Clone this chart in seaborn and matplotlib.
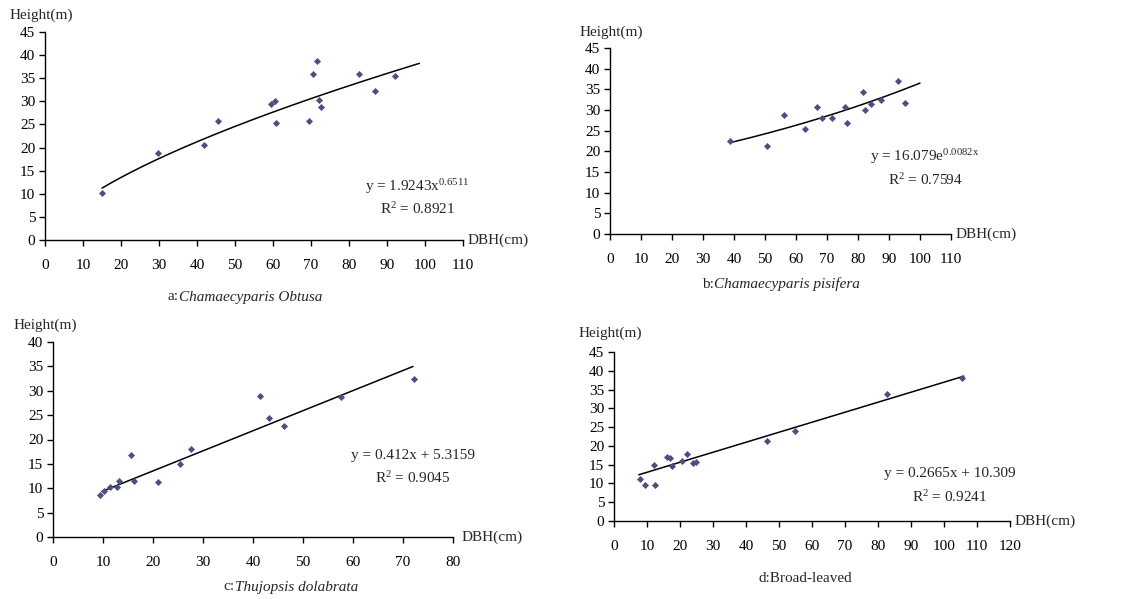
import numpy as np
import pandas as pd
import matplotlib
matplotlib.use("Agg")
import matplotlib.pyplot as plt
import seaborn as sns

sns.set_style("white")
plt.rcParams['font.family'] = ['Liberation Serif', 'DejaVu Serif']
plt.rcParams['mathtext.fontset'] = 'custom'
plt.rcParams['mathtext.rm'] = 'Liberation Serif'
plt.rcParams['mathtext.it'] = 'Liberation Serif:italic'

# ---- data ----
a_dbh = [14.9, 29.8, 41.8, 45.6, 59.6, 60.5, 60.8, 69.6, 70.6, 71.7, 72.0, 72.7, 82.6, 86.8, 92.1]
a_h = [10.2, 18.8, 20.6, 25.8, 29.5, 30.0, 25.3, 25.8, 36.0, 38.7, 30.2, 28.8, 36.0, 32.2, 35.4]
b_dbh = [38.8, 50.6, 56.1, 62.8, 66.7, 68.5, 71.6, 75.7, 76.5, 81.6, 82.3, 84.1, 87.4, 92.9, 95.2]
b_h = [22.5, 21.4, 28.8, 25.5, 30.8, 28.1, 28.1, 30.7, 26.9, 34.3, 30.0, 31.4, 32.3, 37.0, 31.6]
c_dbh = [9.4, 10.1, 11.4, 12.7, 13.2, 15.6, 16.2, 20.9, 25.3, 27.6, 41.3, 43.1, 46.1, 57.5, 72.1]
c_h = [8.6, 9.4, 10.3, 10.3, 11.4, 16.8, 11.5, 11.2, 14.9, 18.1, 29.0, 24.5, 22.8, 28.7, 32.5]
d_dbh = [7.8, 9.5, 12.1, 12.3, 16.1, 16.9, 17.6, 20.6, 22.2, 24.0, 24.8, 46.5, 54.9, 82.6, 105.6]
d_h = [11.2, 9.6, 14.9, 9.6, 17.0, 16.7, 14.7, 16.1, 17.9, 15.5, 15.7, 21.3, 24.0, 33.7, 38.0]

# trendline coefficients (as printed in the chart)
a_coef = (1.9243, 0.6511)    # power
b_coef = (16.079, 0.0082)    # exponential
c_coef = (0.412, 5.3159)     # linear
d_coef = (0.2665, 10.309)    # linear
a_range = (15.0, 98.5)
b_range = (38.8, 100.0)
c_range = (9.8, 72.0)
d_range = (7.5, 106.0)

a_xticks = list(range(0, 111, 10))
b_xticks = list(range(0, 111, 10))
c_xticks = list(range(0, 81, 10))
d_xticks = list(range(0, 121, 10))
a_yticks = list(range(0, 46, 5))
b_yticks = list(range(0, 46, 5))
c_yticks = list(range(0, 41, 5))
d_yticks = list(range(0, 46, 5))

eq_a = "y = 1.9243x$^{\\mathrm{0.6511}}$"
eq_b = "y = 16.079e$^{\\mathrm{0.0082x}}$"
eq_c = "y = 0.412x + 5.3159"
eq_d = "y = 0.2665x + 10.309"
r2_a = "R$^{\\mathrm{2}}$ = 0.8921"
r2_b = "R$^{\\mathrm{2}}$ = 0.7594"
r2_c = "R$^{\\mathrm{2}}$ = 0.9045"
r2_d = "R$^{\\mathrm{2}}$ = 0.9241"

W, H = 1123, 599
fig = plt.figure(figsize=(W / 100, H / 100), dpi=100)

def px_axes(x0, y_top, x1, y_bot):
    return fig.add_axes([x0 / W, 1 - y_bot / H, (x1 - x0) / W, (y_bot - y_top) / H])

FS = 11

def ftext(x, y, s, ha='left', va='center', **kw):
    fig.text(x / W, 1 - y / H, s, ha=ha, va=va, fontsize=FS, **kw)

MC = '#4e4e80'

def panel(box, xs, ys, xticks, yticks, kind, coef, rng):
    ax = px_axes(*box)
    df = pd.DataFrame({'DBH': xs, 'Height': ys})
    sns.scatterplot(data=df, x='DBH', y='Height', ax=ax, marker='D', s=13,
                    color=MC, edgecolor=MC, linewidth=0, zorder=3)
    xx = np.linspace(rng[0], rng[1], 200)
    if kind == 'power':
        yy = coef[0] * xx ** coef[1]
    elif kind == 'exp':
        yy = coef[0] * np.exp(coef[1] * xx)
    else:
        yy = coef[0] * xx + coef[1]
    ax.plot(xx, yy, color='black', lw=1.1, zorder=2)
    ax.set_xlim(xticks[0], xticks[-1])
    ax.set_ylim(yticks[0], yticks[-1])
    ax.set_xticks(xticks)
    ax.set_yticks(yticks)
    ax.set_xlabel('')
    ax.set_ylabel('')
    for s in ['top', 'right']:
        ax.spines[s].set_visible(False)
    for s in ['left', 'bottom']:
        ax.spines[s].set_color('black')
        ax.spines[s].set_linewidth(1.0)
    ax.tick_params(axis='x', direction='out', length=4, width=1, pad=10,
                   labelsize=FS, bottom=True, colors='black')
    ax.tick_params(axis='y', direction='out', length=4, width=1, pad=3,
                   labelsize=FS, left=True, colors='black')
    ax.set_facecolor('white')
    return ax

# panel a
panel((45, 32, 463, 240), a_dbh, a_h, a_xticks, a_yticks, 'power', a_coef, a_range)
ftext(10, 15, "Height(m)")
ftext(468, 240, "DBH(cm)")
ftext(417, 187, eq_a, ha='center')
ftext(418, 209, r2_a, ha='center')
ftext(179, 297, "a:", ha='right')
ftext(179, 297, "Chamaecyparis Obtusa", style='italic')

# panel b
panel((610, 48, 951, 234), b_dbh, b_h, b_xticks, b_yticks, 'exp', b_coef, b_range)
ftext(580, 32, "Height(m)")
ftext(956, 234, "DBH(cm)")
ftext(925, 157, eq_b, ha='center')
ftext(925, 180, r2_b, ha='center')
ftext(714, 284, "b:", ha='right')
ftext(714, 284, "Chamaecyparis pisifera", style='italic')

# panel c
panel((53, 342, 453, 537), c_dbh, c_h, c_xticks, c_yticks, 'linear', c_coef, c_range)
ftext(14, 325, "Height(m)")
ftext(462, 537, "DBH(cm)")
ftext(413, 455, eq_c, ha='center')
ftext(413, 478, r2_c, ha='center')
ftext(235, 587, "c:", ha='right')
ftext(235, 587, "Thujopsis dolabrata", style='italic')

# panel d
panel((614, 352, 1010, 521), d_dbh, d_h, d_xticks, d_yticks, 'linear', d_coef, d_range)
ftext(579, 333, "Height(m)")
ftext(1015, 521, "DBH(cm)")
ftext(950, 473, eq_d, ha='center')
ftext(950, 497, r2_d, ha='center')
ftext(805, 578, "d:Broad-leaved", ha='center')

fig.savefig("out.png", dpi=100, facecolor='white')
